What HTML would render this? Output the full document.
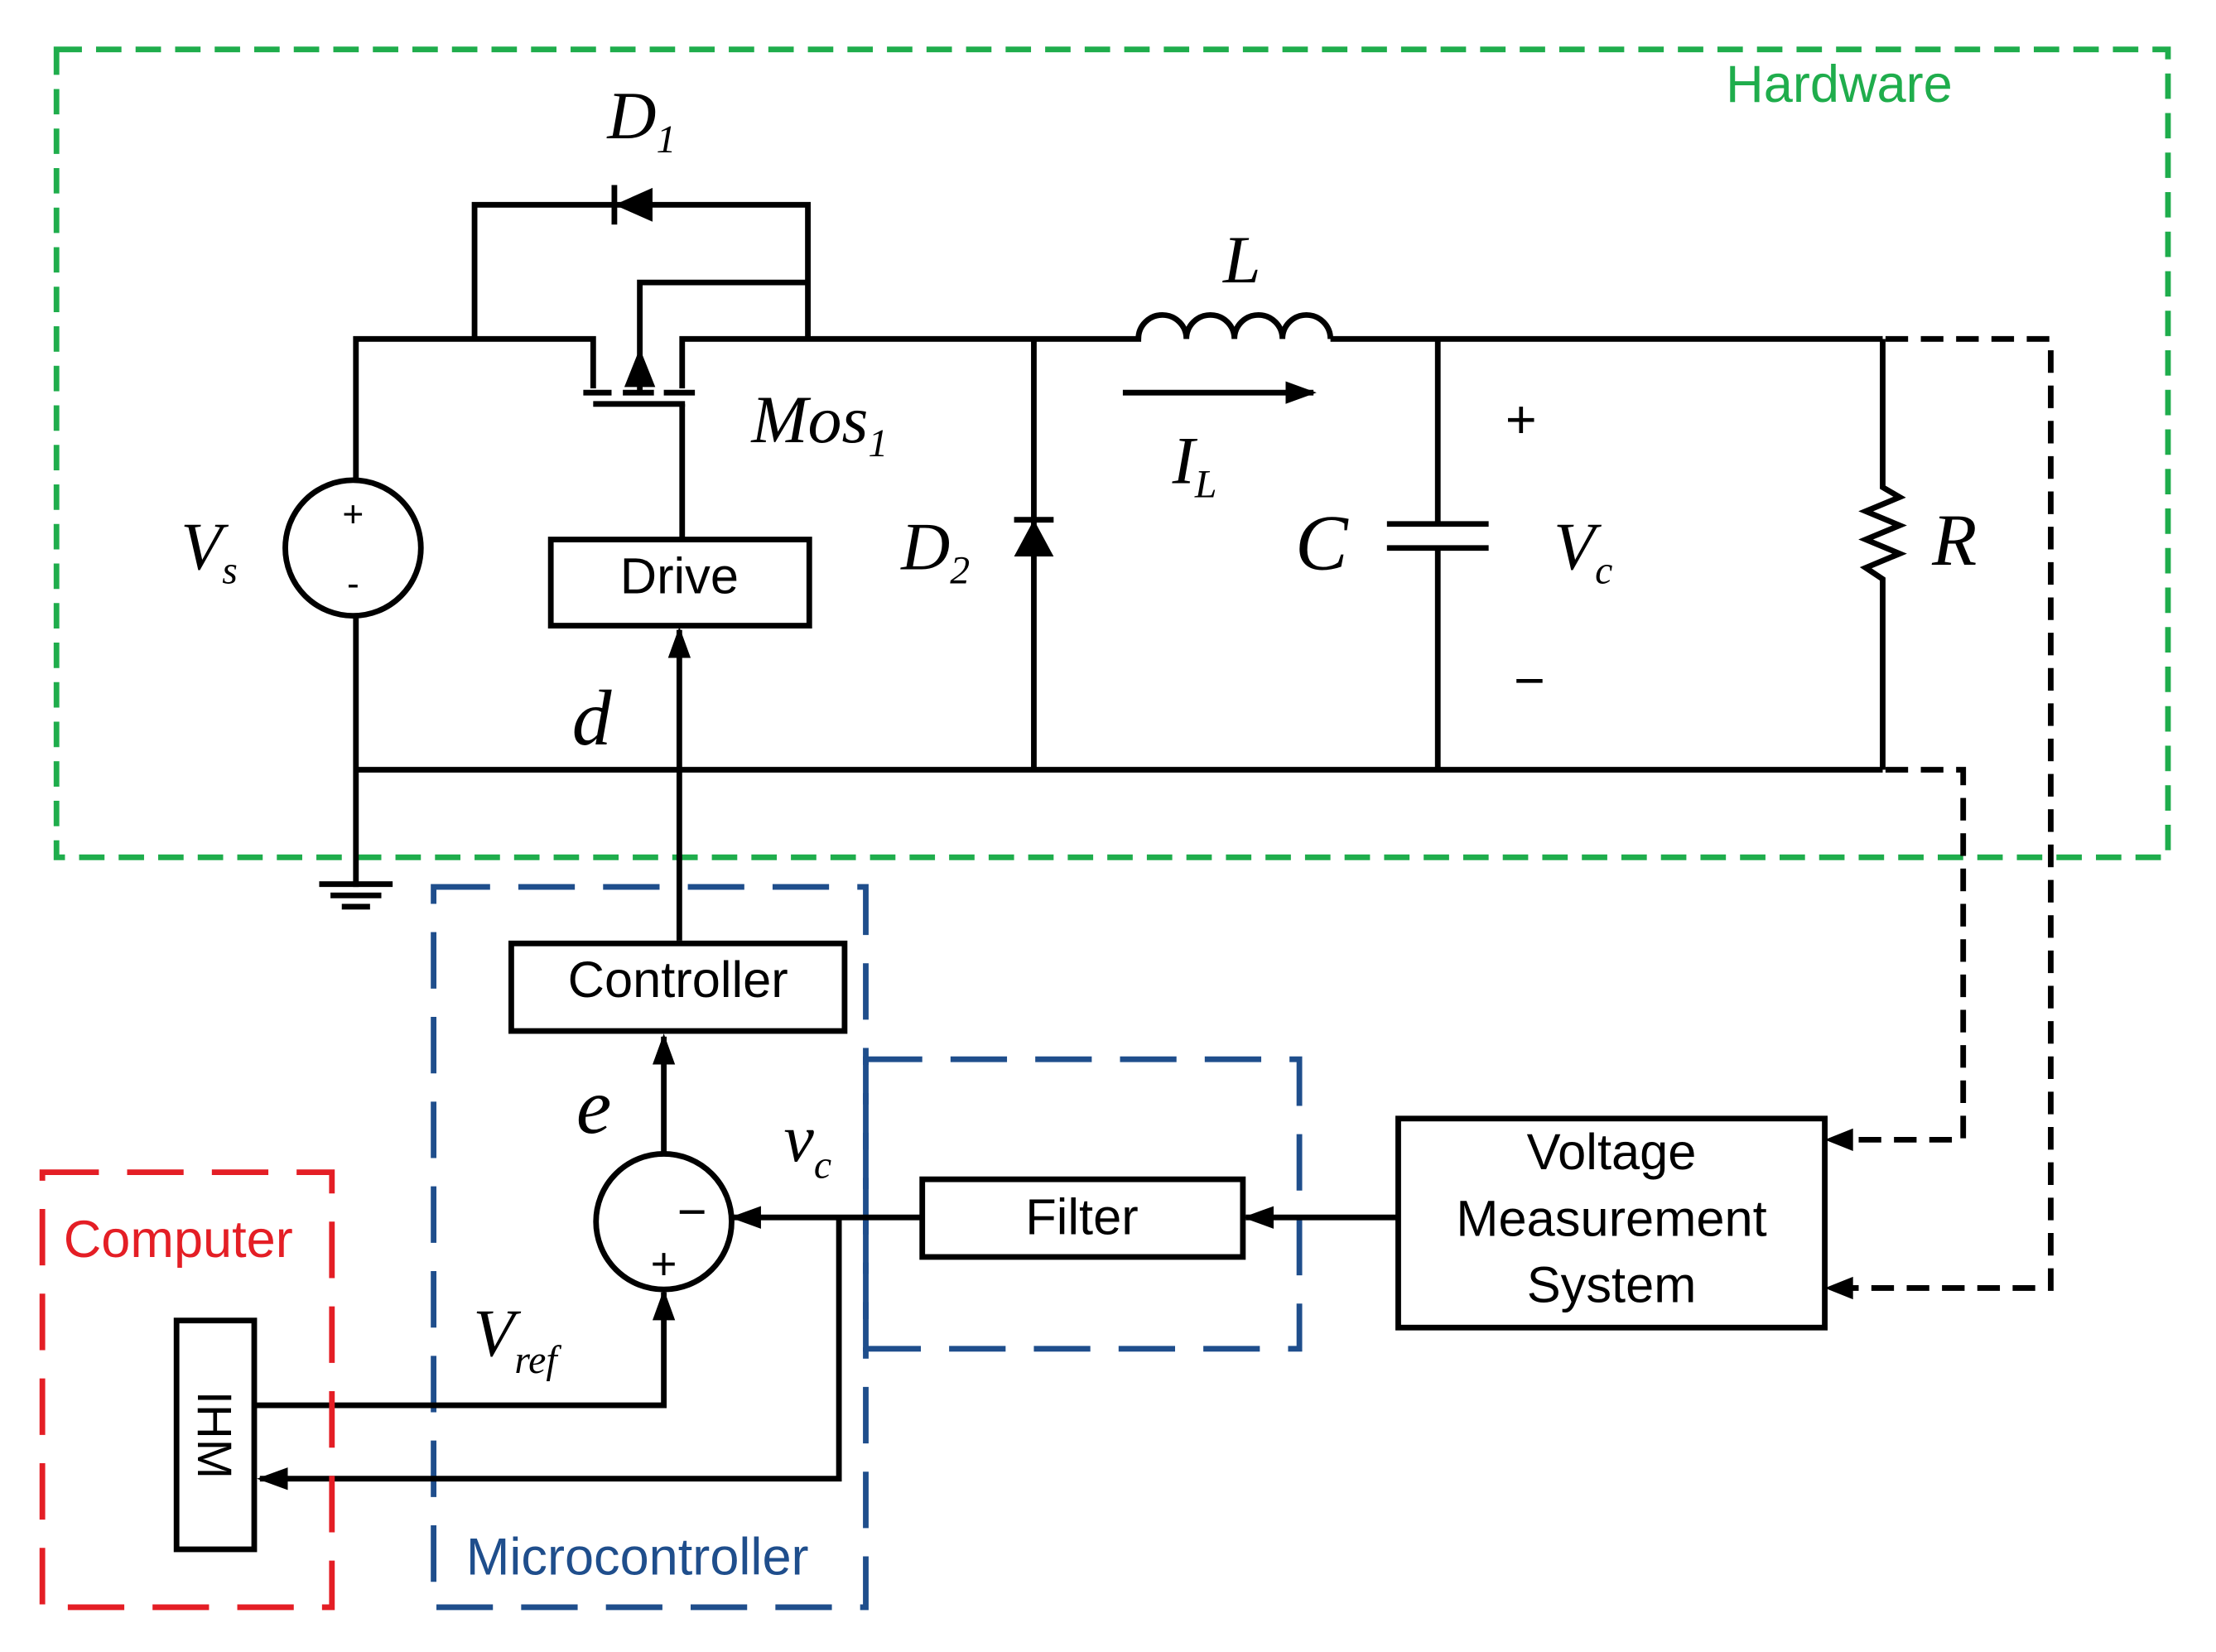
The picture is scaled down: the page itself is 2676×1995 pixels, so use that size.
<!DOCTYPE html>
<html><head><meta charset="utf-8"><style>html,body{margin:0;padding:0;background:#fff}svg{display:block}</style></head>
<body>
<svg width="2676" height="1995" viewBox="0 0 1569 1169.7" xmlns="http://www.w3.org/2000/svg">
<defs>
<marker id="ah" viewBox="0 0 10 10" refX="9" refY="5" markerWidth="22" markerHeight="16" markerUnits="userSpaceOnUse" orient="auto" preserveAspectRatio="none"><path d="M0,0 L10,5 L0,10 z" fill="#000"/></marker>
</defs>
<rect width="1569" height="1170" fill="#fff"/>
<g fill="none" stroke="#000" stroke-width="4">
<rect x="40" y="35" width="1495" height="572" stroke="#1fad4c" stroke-dasharray="18,10"/>
<polyline points="420,275 420,240 252,240 252,340"/>
<circle cx="250" cy="388" r="48"/>
<polyline points="252,436 252,628"/>
<line x1="252" y1="545" x2="1333" y2="545"/>
<line x1="226" y1="626" x2="278" y2="626"/>
<line x1="234" y1="634" x2="270" y2="634"/>
<line x1="242" y1="642" x2="262" y2="642"/>
<polyline points="336,240 336,145 572,145 572,240"/>
<polyline points="572,200 453,200 453,260"/>
<path d="M453,252 L445,272 L461,272 z" fill="#000"/>
<line x1="453" y1="272" x2="453" y2="278"/>
<line x1="413" y1="278" x2="433" y2="278"/>
<line x1="441" y1="278" x2="463" y2="278"/>
<line x1="470" y1="278" x2="492" y2="278"/>
<line x1="420" y1="286" x2="485" y2="286"/>
<polyline points="483,286 483,382"/>
<polyline points="483,275 483,240 808,240"/>
<rect x="390" y="382" width="183" height="61"/>
<line x1="481" y1="666" x2="481" y2="446" marker-end="url(#ah)"/>
<line x1="732" y1="240" x2="732" y2="545"/>
<line x1="718" y1="368" x2="746" y2="368"/>
<path d="M806,240 a17,17 0 0 1 34,0 a17,17 0 0 1 34,0 a17,17 0 0 1 34,0 a17,17 0 0 1 34,0"/>
<line x1="942" y1="240" x2="1333" y2="240"/>
<line x1="795" y1="278" x2="930" y2="278" marker-end="url(#ah)"/>
<polyline points="1018,240 1018,370"/>
<line x1="982" y1="371" x2="1054" y2="371"/>
<line x1="982" y1="388" x2="1054" y2="388"/>
<polyline points="1018,388 1018,545"/>
<polyline points="1333,240 1333,345 1345,352 1321,362 1345,372 1321,382 1345,392 1321,402 1333,410 1333,545"/>
<polyline points="1335,240 1452,240 1452,912 1305,912" stroke-dasharray="16,9"/>
<polyline points="1335,545 1390,545 1390,807 1305,807" stroke-dasharray="16,9"/>
<rect x="307" y="628" width="306" height="510" stroke="#1f4e8c" stroke-dasharray="40,20"/>
<rect x="613" y="750" width="307" height="205" stroke="#1f4e8c" stroke-dasharray="40,20"/>
<rect x="362" y="668" width="236" height="62"/>
<circle cx="470" cy="865" r="48"/>
<line x1="470" y1="817" x2="470" y2="734" marker-end="url(#ah)"/>
<rect x="653" y="835" width="227" height="55"/>
<line x1="990" y1="862" x2="882" y2="862" marker-end="url(#ah)"/>
<line x1="653" y1="862" x2="519" y2="862" marker-end="url(#ah)"/>
<polyline points="594,862 594,1047 184,1047" marker-end="url(#ah)"/>
<polyline points="180,995 470,995 470,915" marker-end="url(#ah)"/>
<rect x="990" y="792" width="302" height="148"/>
<rect x="30" y="830" width="205" height="308" stroke="#e41e25" stroke-dasharray="40,20"/>
<rect x="125" y="935" width="55" height="162"/>
</g>
<path d="M435,145 L462,133 L462,157 z" fill="#000"/>
<rect x="433" y="131" width="4" height="28" fill="#000"/>
<path d="M732,368 L718,394 L746,394 z" fill="#000"/>
<path d="M1292,807 L1312,799 L1312,815 z" fill="#000"/>
<path d="M1292,912 L1312,904 L1312,920 z" fill="#000"/>
<g font-family="Liberation Sans, sans-serif" font-size="36" fill="#000">
<text x="1222" y="72" fill="#1fad4c" font-size="37">Hardware</text>
<text x="481" y="420" text-anchor="middle">Drive</text>
<text x="480" y="706" text-anchor="middle">Controller</text>
<text x="766" y="874" text-anchor="middle">Filter</text>
<text x="1141" y="828" text-anchor="middle">Voltage</text>
<text x="1141" y="875" text-anchor="middle">Measurement</text>
<text x="1141" y="922" text-anchor="middle">System</text>
<text x="45" y="890" fill="#e41e25" font-size="37">Computer</text>
<text x="330" y="1115" fill="#1f4e8c" font-size="37">Microcontroller</text>
<text transform="translate(140,1016) rotate(90)" text-anchor="middle" font-size="34">IHM</text>
<text x="250" y="373" text-anchor="middle" font-size="26">+</text>
<text x="250" y="422" text-anchor="middle" font-size="26">-</text>
<text x="490" y="870" text-anchor="middle" font-size="36">−</text>
<text x="470" y="906" text-anchor="middle" font-size="32">+</text>
</g>
<g font-family="Liberation Serif, serif" font-style="italic" fill="#000">
<text x="430" y="98" font-size="48">D<tspan font-size="28" dy="10">1</tspan></text>
<text x="532" y="313" font-size="48">Mos<tspan font-size="28" dy="10">1</tspan></text>
<text x="128" y="403" font-size="48">V<tspan font-size="28" dy="10">s</tspan></text>
<text x="638" y="403" font-size="48">D<tspan font-size="28" dy="10">2</tspan></text>
<text x="866" y="200" font-size="48">L</text>
<text x="830" y="342" font-size="48">I<tspan font-size="28" dy="10">L</tspan></text>
<text x="917" y="403" font-size="56">C</text>
<text x="1100" y="403" font-size="48">V<tspan font-size="28" dy="10">c</tspan></text>
<text x="1368" y="400" font-size="52">R</text>
<text x="405" y="527" font-size="56">d</text>
<text x="408" y="802" font-size="56">e</text>
<text x="555" y="822" font-size="48">v<tspan font-size="28" dy="12">c</tspan></text>
<text x="335" y="960" font-size="48">V<tspan font-size="28" dy="12">ref</tspan></text>
</g>
<g font-family="Liberation Sans, sans-serif" fill="#000">
<text x="1077" y="310" text-anchor="middle" font-size="38">+</text>
<text x="1083" y="495" text-anchor="middle" font-size="38">−</text>
</g>
</svg>
</body></html>
